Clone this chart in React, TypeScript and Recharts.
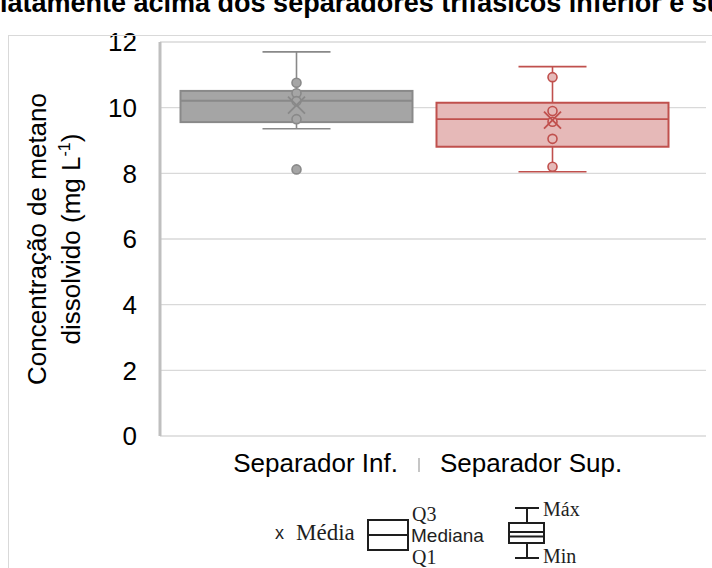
import React from "react";
import { Bar, CartesianGrid, ComposedChart, Scatter, XAxis, YAxis } from "recharts";

const categories = ["Separador Inf.", "Separador Sup."];
const minValues = [9.36, 8.05];
const q1Values = [9.56, 8.81];
const medianValues = [10.21, 9.65];
const q3Values = [10.51, 10.15];
const maxValues = [11.7, 11.25];
const meanValues = [10.08, 9.62];
const pointsInf = [10.76, 10.44, 10.2, 9.65, 8.12];
const pointsSup = [10.93, 9.9, 9.57, 9.05, 8.2];
const yTicks = [0, 2, 4, 6, 8, 10, 12];

const palette = [
  { fill: "#a5a5a5", stroke: "#898989" },
  { fill: "#e6b9b8", stroke: "#c0504d" },
];
const sans = "'Liberation Sans', Arial, sans-serif";
const serif = "'Liberation Serif', 'Times New Roman', serif";

const rows = categories.map((name, i) => ({
  name,
  idx: i,
  box: [q1Values[i], q3Values[i]],
  min: minValues[i],
  q1: q1Values[i],
  median: medianValues[i],
  q3: q3Values[i],
  max: maxValues[i],
}));
const pointRows = [pointsInf, pointsSup].flatMap((pts, i) =>
  pts.map((v) => ({ name: categories[i], v, idx: i }))
);
const meanRows = categories.map((name, i) => ({ name, v: meanValues[i], idx: i }));

function BoxShape(props: any) {
  const { x, y, width, height, payload } = props;
  const c = palette[payload.idx];
  const top = Math.min(y, y + height);
  const h = Math.abs(height);
  const ppu = h / (payload.q3 - payload.q1);
  const yOf = (v: number) => top + (payload.q3 - v) * ppu;
  const cx = x + width / 2;
  const cap = 34;
  const yMax = yOf(payload.max);
  const yMin = yOf(payload.min);
  return (
    <g>
      <line x1={cx} x2={cx} y1={yMax} y2={top} stroke={c.stroke} strokeWidth={1.6} />
      <line x1={cx} x2={cx} y1={top + h} y2={yMin} stroke={c.stroke} strokeWidth={1.6} />
      <line x1={cx - cap} x2={cx + cap} y1={yMax} y2={yMax} stroke={c.stroke} strokeWidth={1.6} />
      <line x1={cx - cap} x2={cx + cap} y1={yMin} y2={yMin} stroke={c.stroke} strokeWidth={1.6} />
      <rect x={x} y={top} width={width} height={h} fill={c.fill} stroke={c.stroke} strokeWidth={2} />
      <line x1={x} x2={x + width} y1={yOf(payload.median)} y2={yOf(payload.median)} stroke={c.stroke} strokeWidth={1.8} />
    </g>
  );
}

function PointShape(props: any) {
  const { cx, cy, payload } = props;
  const c = palette[payload.idx];
  return <circle cx={cx} cy={cy} r={4.5} fill={c.fill} stroke={c.stroke} strokeWidth={1.6} />;
}

function MeanShape(props: any) {
  const { cx, cy, payload } = props;
  const c = palette[payload.idx];
  const d = 8.5;
  return (
    <g stroke={c.stroke} strokeWidth={1.8}>
      <line x1={cx - d} y1={cy - d} x2={cx + d} y2={cy + d} />
      <line x1={cx - d} y1={cy + d} x2={cx + d} y2={cy - d} />
    </g>
  );
}

function CategoryTick(props: any) {
  const { x, y, payload } = props;
  const half = payload.offset || 128;
  const baseY = y + 28;
  if (payload.index === 0) {
    const edge = x + half;
    return (
      <g>
        <text x={edge - 26.5} y={baseY} textAnchor="end" fontSize={26} fontFamily={sans} fill="#000">
          {payload.value}
        </text>
        <line x1={edge - 5.5} x2={edge - 5.5} y1={baseY - 14} y2={baseY} stroke="#b3b3b3" strokeWidth={1.5} />
      </g>
    );
  }
  return (
    <text x={x - half + 15.5} y={baseY} textAnchor="start" fontSize={26} fontFamily={sans} fill="#000">
      {payload.value}
    </text>
  );
}

function YLabel(props: any) {
  const vb = props.viewBox || {};
  const cy = (vb.y ?? 42) + (vb.height ?? 394) / 2;
  return (
    <g fontSize={26} fontFamily={sans} fill="#000">
      <text x={46} y={cy} textAnchor="middle" transform={`rotate(-90, 46, ${cy})`}>
        Concentração de metano
      </text>
      <text x={80} y={cy} textAnchor="middle" transform={`rotate(-90, 80, ${cy})`}>
        <tspan>dissolvido (mg L</tspan>
        <tspan dy={-10} fontSize={16}>-1</tspan>
        <tspan dy={10}>)</tspan>
      </text>
    </g>
  );
}

function Overlay() {
  const ink = "#1e1e1e";
  return (
    <svg width={712} height={568} style={{ position: "absolute", left: 0, top: 0, pointerEvents: "none" }}>
      <text x={0} y={12} fontSize={27} fontWeight="bold" fontFamily={sans} fill="#000">
        latamente acima dos separadores trifásicos inferior e su
      </text>
      <rect x={8.5} y={35.5} width={800} height={600} fill="none" stroke="#d9d9d9" strokeWidth={1} />
      <text x={275} y={539} fontSize={18} fontFamily={sans} fill={ink}>x</text>
      <text x={296} y={540} fontSize={23} fontFamily={serif} fill={ink}>Média</text>
      <rect x={368} y={520} width={40} height={30} fill="none" stroke={ink} strokeWidth={2} />
      <line x1={368} x2={408} y1={535} y2={535} stroke={ink} strokeWidth={2} />
      <text x={412} y={521} fontSize={20} fontFamily={serif} fill={ink}>Q3</text>
      <text x={411} y={542} fontSize={19} fontFamily={sans} fill={ink}>Mediana</text>
      <text x={412} y={564} fontSize={20} fontFamily={serif} fill={ink}>Q1</text>
      <g stroke={ink} strokeWidth={2}>
        <line x1={515} x2={539} y1={508} y2={508} />
        <line x1={527} x2={527} y1={508} y2={523} />
        <rect x={509} y={523} width={35} height={20} fill="none" />
        <line x1={509} x2={544} y1={532} y2={532} />
        <line x1={509} x2={544} y1={536.5} y2={536.5} />
        <line x1={527} x2={527} y1={543} y2={558} />
        <line x1={515} x2={539} y1={558} y2={558} />
      </g>
      <text x={543} y={516} fontSize={20} fontFamily={serif} fill={ink}>Máx</text>
      <text x={543} y={563} fontSize={20} fontFamily={serif} fill={ink}>Min</text>
    </svg>
  );
}

export default function App() {
  return (
    <div style={{ position: "absolute", left: 0, top: 0, width: 712, height: 568, background: "#fff" }}>
      <ComposedChart width={712} height={568} data={rows} margin={{ top: 42, right: 6, bottom: 92, left: 0 }}>
        <CartesianGrid vertical={false} stroke="#d9d9d9" strokeWidth={1.4} />
        <XAxis
          dataKey="name"
          allowDuplicatedCategory={false}
          axisLine={false}
          tickLine={false}
          interval={0}
          height={40}
          padding={{ left: 8.5, right: 25.5 }}
          tick={<CategoryTick />}
        />
        <YAxis
          width={160}
          domain={[0, 12]}
          ticks={yTicks}
          axisLine={{ stroke: "#bfbfbf", strokeWidth: 3 }}
          tickLine={false}
          tickSize={6}
          tickMargin={17}
          tick={{ fontSize: 26, fontFamily: sans, fill: "#000" }}
          label={(p: any) => <YLabel {...p} />}
        />
        <Bar dataKey="box" barSize={232} shape={<BoxShape />} isAnimationActive={false} />
        <Scatter data={pointRows} dataKey="v" shape={<PointShape />} isAnimationActive={false} />
        <Scatter data={meanRows} dataKey="v" shape={<MeanShape />} isAnimationActive={false} />
      </ComposedChart>
      <Overlay />
    </div>
  );
}
